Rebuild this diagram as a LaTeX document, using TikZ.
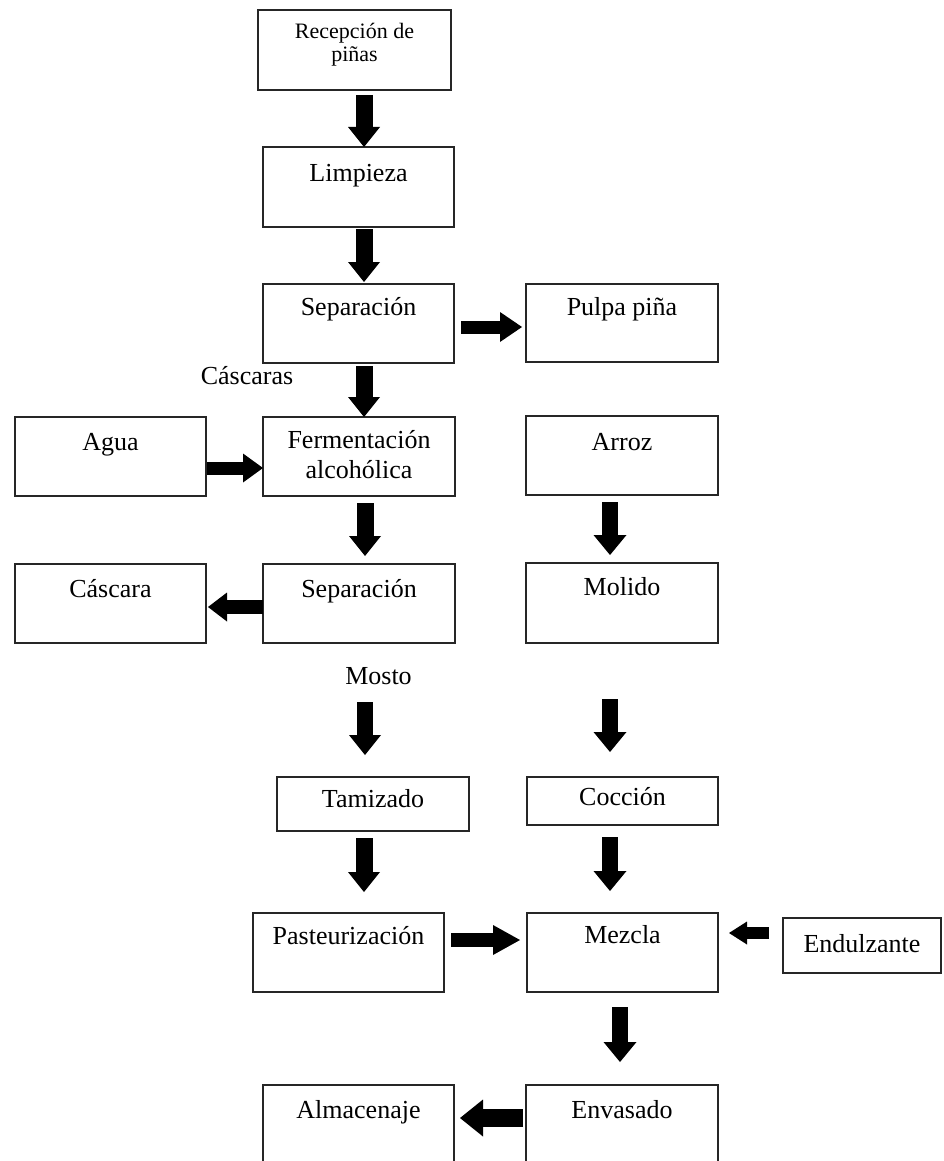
\documentclass[tikz,border=0pt]{standalone}
\usepackage{fontspec}
\setmainfont{Liberation Serif}
\usetikzlibrary{arrows.meta}
\newcommand\bxt[4]{\parbox[t][#2pt][t]{#1pt}{\centering\rule{0pt}{#3pt}#4}}
\begin{document}
\begin{tikzpicture}[x=1pt,y=-1pt,
  box/.style={draw=black!85, line width=1.8pt, inner sep=0pt, outer sep=0pt,
    anchor=north west, font=\fontsize{26}{30}\selectfont},
  lbl/.style={inner sep=0pt, font=\fontsize{26}{30}\selectfont},
  arr/.style n args={3}{line width=#1pt, line cap=butt,
    -{Triangle[width=#2pt,length=#3pt,line width=0pt]}}]
\useasboundingbox (0,0) rectangle (943,1161);
\clip (0,0) rectangle (943,1161);
% boxes
\node[box, font=\fontsize{22}{23}\selectfont] (recep) at (258,10) {\bxt{193}{80}{29}{Recepción de\\piñas}};
\node[box] (limp)   at (263,147) {\bxt{191}{80}{35}{Limpieza}};
\node[box] (sep1)   at (263,284) {\bxt{191}{79}{31}{Separación}};
\node[box] (pulpa)  at (526,284) {\bxt{192}{78}{31}{Pulpa piña}};
\node[box] (agua)   at (15,417)  {\bxt{191}{79}{33}{Agua}};
\node[box] (ferm)   at (263,417) {\bxt{192}{79}{31}{Fermentación\\alcohólica}};
\node[box] (arroz)  at (526,416) {\bxt{192}{79}{34}{Arroz}};
\node[box] (casc)   at (15,564)  {\bxt{191}{79}{33}{Cáscara}};
\node[box] (sep2)   at (263,564) {\bxt{192}{79}{33}{Separación}};
\node[box] (molido) at (526,563) {\bxt{192}{80}{32}{Molido}};
\node[box] (tam)    at (277,777) {\bxt{192}{54}{30}{Tamizado}};
\node[box] (coc)    at (527,777) {\bxt{191}{48}{28}{Cocción}};
\node[box] (paste)  at (253,913) {\bxt{191}{79}{31}{Pasteurización}};
\node[box] (mezcla) at (527,913) {\bxt{191}{79}{30}{Mezcla}};
\node[box] (endul)  at (783,918) {\bxt{158}{55}{34}{Endulzante}};
\node[box] (alma)   at (263,1085) {\bxt{191}{80}{33}{Almacenaje}};
\node[box] (env)    at (526,1085) {\bxt{192}{80}{33}{Envasado}};
% labels
\node[lbl, anchor=base] (casclbl) at (247,384) {Cáscaras};
\node[lbl, anchor=base] (mosto) at (378.5,684) {Mosto};
% vertical arrows
\draw[arr={17}{32}{20}, shorten <=5pt] (recep.south -| 364,0) -- (limp.north -| 364,0);
\draw[arr={17}{32}{20}, shorten <=2pt, shorten >=2pt] (limp.south -| 364,0) -- (sep1.north -| 364,0);
\draw[arr={17}{32}{20}, shorten <=3pt] (sep1.south -| 364,0) -- (ferm.north -| 364,0);
\draw[arr={17}{32}{20}, shorten <=7pt, shorten >=8pt] (ferm.south -| 365,0) -- (sep2.north -| 365,0);
\draw[arr={16}{32}{20}, shorten <=59pt, shorten >=22pt] (sep2.south -| 365,0) -- (tam.north -| 365,0);
\draw[arr={17}{32}{20}, shorten <=7pt, shorten >=21pt] (tam.south -| 364,0) -- (paste.north -| 364,0);
\draw[arr={16}{33}{20}, shorten <=7pt, shorten >=8pt] (arroz.south -| 610,0) -- (molido.north -| 610,0);
\draw[arr={16}{33}{20}, shorten <=56pt, shorten >=25pt] (molido.south -| 610,0) -- (coc.north -| 610,0);
\draw[arr={16}{33}{20}, shorten <=12pt, shorten >=22pt] (coc.south -| 610,0) -- (mezcla.north -| 610,0);
\draw[arr={16}{33}{20}, shorten <=15pt, shorten >=23pt] (mezcla.south -| 620,0) -- (env.north -| 620,0);
% horizontal arrows
\draw[arr={13}{30}{22}, shorten <=7pt, shorten >=4pt] (sep1.east |- 0,327) -- (pulpa.west |- 0,327);
\draw[arr={13}{29}{20}, shorten <=1pt] (agua.east |- 0,468) -- (ferm.west |- 0,468);
\draw[arr={14}{29}{19}, shorten >=2pt] (sep2.west |- 0,607) -- (casc.east |- 0,607);
\draw[arr={14}{30}{27}, shorten <=7pt, shorten >=7pt] (paste.east |- 0,940) -- (mezcla.west |- 0,940);
\draw[arr={12}{23}{18}, shorten <=14pt, shorten >=11pt] (endul.west |- 0,933) -- (mezcla.east |- 0,933);
\draw[arr={18}{37}{23}, shorten <=3pt, shorten >=6pt] (env.west |- 0,1118) -- (alma.east |- 0,1118);
\end{tikzpicture}
\end{document}
